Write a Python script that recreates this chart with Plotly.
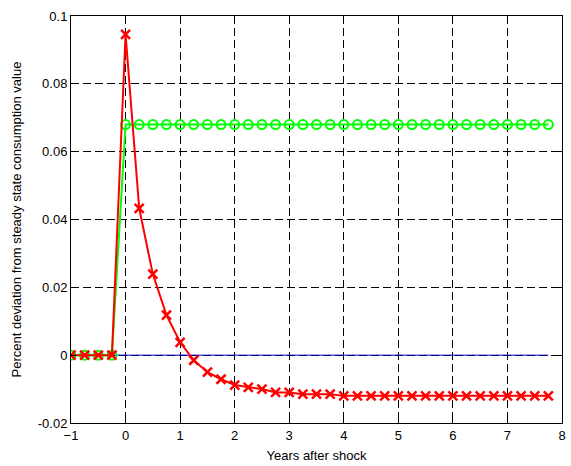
import plotly.graph_objects as go

x_vals = [-1 + 0.25 * i for i in range(36)]  # -1 .. 7.75

green_vals = [0, 0, 0, 0] + [0.068] * 32

red_vals = [0, 0, 0, 0,
            0.0946, 0.0433, 0.0239, 0.0118, 0.0038, -0.0015, -0.0050, -0.0071,
            -0.0088, -0.0095, -0.0100, -0.0110, -0.0110, -0.0115, -0.0115, -0.0115,
            -0.0120, -0.0120, -0.0120, -0.0120, -0.0120, -0.0120, -0.0120, -0.0120,
            -0.0120, -0.0120, -0.0120, -0.0120, -0.0120, -0.0120, -0.0120, -0.0120]

zero_vals = [0] * 36

x_ticks = [-1, 0, 1, 2, 3, 4, 5, 6, 7, 8]
y_ticks = [-0.02, 0, 0.02, 0.04, 0.06, 0.08, 0.1]
y_tick_text = ["-0.02", "0", "0.02", "0.04", "0.06", "0.08", "0.1"]

fig = go.Figure()
fig.add_trace(go.Scatter(x=x_vals, y=zero_vals, mode="lines",
                         line=dict(color="#0000bb", width=1)))
fig.add_trace(go.Scatter(x=x_vals, y=green_vals, mode="lines+markers",
                         line=dict(color="#00ff00", width=2),
                         marker=dict(symbol="circle-open", size=9, color="#00ff00",
                                     line=dict(width=2, color="#00ff00"))))
fig.add_trace(go.Scatter(x=x_vals, y=red_vals, mode="lines+markers",
                         line=dict(color="#ff0000", width=2),
                         marker=dict(symbol="x-thin-open", size=9, color="#ff0000",
                                     line=dict(width=2.5, color="#ff0000"))))

axis_common = dict(showline=True, linecolor="black", linewidth=1, mirror="ticks",
                   ticks="inside", ticklen=5, tickcolor="black",
                   showgrid=True, gridcolor="black", griddash="8px,4px", gridwidth=1,
                   zeroline=False, tickfont=dict(family="Arial", size=13, color="black"))

fig.update_layout(
    width=571, height=466,
    margin=dict(l=71, r=5, t=16, b=43),
    paper_bgcolor="white", plot_bgcolor="white",
    showlegend=False,
    xaxis=dict(range=[-1, 8], tickvals=x_ticks,
               title=dict(text="Years after shock", standoff=9,
                          font=dict(family="Arial", size=13, color="black")),
               **axis_common),
    yaxis=dict(range=[-0.02, 0.1], tickvals=y_ticks, ticktext=y_tick_text,
               title=dict(text="Percent deviation from steady state consumption value", standoff=13,
                          font=dict(family="Arial", size=13, color="black")),
               **axis_common),
)

fig.write_html("out.html")
